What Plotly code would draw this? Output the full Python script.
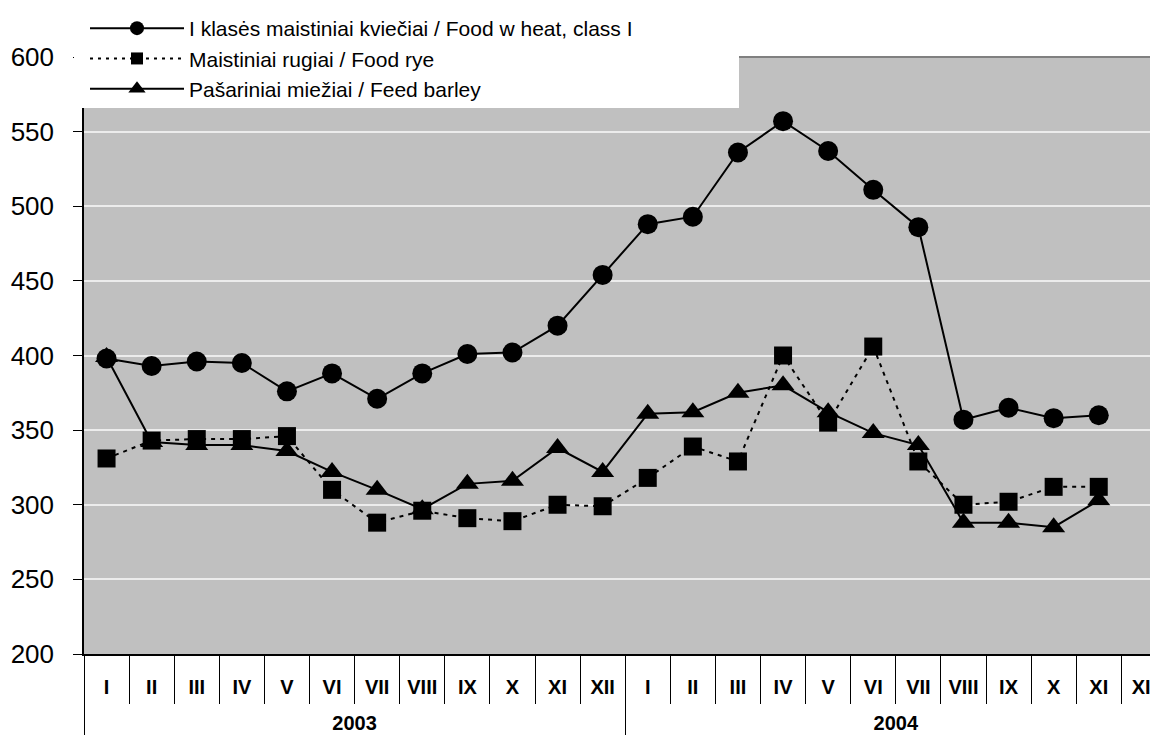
import plotly.graph_objects as go

months = ["I", "II", "III", "IV", "V", "VI", "VII", "VIII", "IX", "X", "XI", "XII"]
years = ["2003", "2004"]

wheat = [398, 393, 396, 395, 376, 388, 371, 388, 401, 402, 420, 454,
         488, 493, 536, 557, 537, 511, 486, 357, 365, 358, 360, None]
rye = [331, 343, 344, 344, 346, 310, 288, 296, 291, 289, 300, 299,
       318, 339, 329, 400, 355, 406, 329, 300, 302, 312, 312, None]
barley = [399, 342, 340, 340, 336, 322, 310, 297, 314, 316, 338, 322,
          361, 362, 375, 380, 362, 348, 340, 288, 288, 285, 303, None]

names = ["I klasės maistiniai kviečiai / Food w heat, class I",
         "Maistiniai rugiai / Food rye",
         "Pašariniai miežiai / Feed barley"]

# outer level labels: a leading line break pushes the year row lower
x_outer = ["<br>" + y for y in years for _ in months]
x_inner = [m for _ in years for m in months]

FONT = "Arial, Liberation Sans, sans-serif"
W, H = 1150, 735
ML, MT, MB, MR = 76, 49, 89, 0
PW, PH = W - ML - MR, H - MT - MB

fig = go.Figure()
fig.add_trace(go.Scatter(
    x=[x_outer, x_inner], y=barley, name=names[2], mode="lines+markers",
    line=dict(color="black", width=2),
    marker=dict(symbol="triangle-up", size=20, color="black"),
    showlegend=False))
fig.add_trace(go.Scatter(
    x=[x_outer, x_inner], y=rye, name=names[1], mode="lines+markers",
    line=dict(color="black", width=2, dash="4px,5px"),
    marker=dict(symbol="square", size=18, color="black"),
    showlegend=False))
fig.add_trace(go.Scatter(
    x=[x_outer, x_inner], y=wheat, name=names[0], mode="lines+markers",
    line=dict(color="black", width=2),
    marker=dict(symbol="circle", size=20, color="black"),
    showlegend=False))

# legend entries (order: wheat, rye, barley)
for nm, sym, dash, sz in [(names[0], "circle", "solid", 14),
                          (names[1], "square", "3px,5px", 12),
                          (names[2], "triangle-up", "solid", 15)]:
    fig.add_trace(go.Scatter(
        x=[None], y=[None], name=nm, mode="lines+markers",
        line=dict(color="black", width=2, dash=dash),
        marker=dict(symbol=sym, size=sz, color="black"),
        showlegend=True))

box_right_px = 739 - 8 - ML      # legend panel right edge inside plot
box_bottom_px = 108 - 8 - MT     # legend panel bottom edge inside plot

fig.update_layout(
    width=W, height=H,
    margin=dict(l=ML, r=MR, t=MT, b=MB, autoexpand=False),
    paper_bgcolor="white",
    plot_bgcolor="#C0C0C0",
    font=dict(family=FONT, color="black"),
    legend=dict(
        xref="container", yref="container",
        x=(ML + 1) / W, xanchor="left", y=1.007, yanchor="top",
        bgcolor="rgba(0,0,0,0)", borderwidth=0,
        font=dict(family=FONT, size=21, color="black"),
        itemwidth=94, tracegroupgap=0,
        traceorder="normal",
    ),
    xaxis=dict(
        type="multicategory",
        range=[-0.5, -0.5 + PW / 45.1],
        automargin=False,
        showline=True, linecolor="black", linewidth=1.5,
        tickson="boundaries", ticks="outside", ticklen=48,
        tickcolor="black", tickwidth=1,
        showdividers=True, dividercolor="black", dividerwidth=1,
        tickfont=dict(family=FONT, size=20, color="black", weight="bold"),
        ticklabelstandoff=14,
        showgrid=False,
    ),
    yaxis=dict(
        range=[200, 600],
        automargin=False,
        tickvals=[200, 250, 300, 350, 400, 450, 500, 550, 600],
        showline=True, linecolor="black", linewidth=1.5,
        ticks="outside", ticklen=9, tickcolor="black",
        showgrid=True, gridcolor="#ECECEC", gridwidth=1.5,
        tickfont=dict(family=FONT, size=26, color="black"),
        ticklabelstandoff=14,
        zeroline=False,
    ),
    shapes=[
        dict(type="line", xref="paper", yref="paper", x0=0, x1=1,
             y0=1, y1=1, line=dict(color="#808080", width=2)),
        dict(type="rect", xref="paper", yref="paper", layer="above",
             x0=-10 / PW, x1=box_right_px / PW,
             y0=1 - box_bottom_px / PH, y1=1.02,
             fillcolor="white", line=dict(width=0)),
    ],
)

fig.write_html("out.html")
